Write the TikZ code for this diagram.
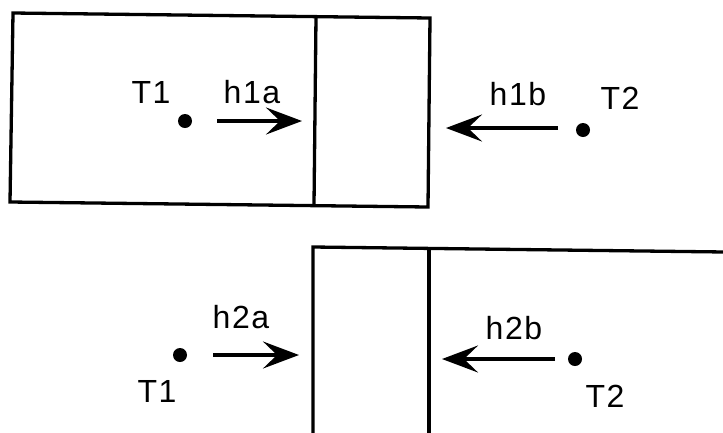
\documentclass[tikz,border=0pt]{standalone}
\usepackage{fontspec}
\setmainfont{Liberation Sans}[LetterSpace=5]
\usetikzlibrary{arrows.meta}
\tikzset{
  wall/.style={line width=3.3pt, line join=miter},
  dotn/.style={circle, fill=black, inner sep=0pt, minimum size=14pt},
  flux/.style={line width=3.2pt, -{Stealth[length=36pt, width=27pt, inset=14pt]}, shorten >=0pt},
  lbl/.style={font=\fontsize{32}{32}\selectfont, inner sep=0pt, anchor=base}
}
\begin{document}
\begin{tikzpicture}[x=1pt,y=-1pt]
\useasboundingbox (0,0) rectangle (723,432);
% top figure
\draw[wall] (13,13) -- (430,18) -- (428,207) -- (10,202) -- cycle;
\draw[wall] (316,17) -- (314,205);
\node[dotn] (d1) at (185,121) {};
\node[lbl] (t1) at (151,103) {T1};
\node[lbl] (l1a) at (252,103) {h1a};
\coordinate (a1s) at (217,121);
\coordinate (a1e) at (302,121);
\draw[flux] (a1s) -- (a1e);
\node[dotn] (d2) at (583,130) {};
\node[lbl] (t2) at (620,109) {T2};
\node[lbl] (l1b) at (518,105) {h1b};
\coordinate (b1s) at (558,128);
\coordinate (b1e) at (446,128);
\draw[flux] (b1s) -- (b1e);
% bottom figure
\draw[wall] (313,434) -- (313,247) -- (725,252);
\draw[wall] (429,249) -- (429,434);
\node[dotn] (d3) at (180,355) {};
\node[lbl] (t3) at (157,402) {T1};
\node[lbl] (l2a) at (241,328) {h2a};
\coordinate (a2s) at (213,355);
\coordinate (a2e) at (299,355);
\draw[flux] (a2s) -- (a2e);
\node[dotn] (d4) at (575,359) {};
\node[lbl] (t4) at (605,407) {T2};
\node[lbl] (l2b) at (514,339) {h2b};
\coordinate (b2s) at (555,359);
\coordinate (b2e) at (442,359);
\draw[flux] (b2s) -- (b2e);
\end{tikzpicture}
\end{document}
